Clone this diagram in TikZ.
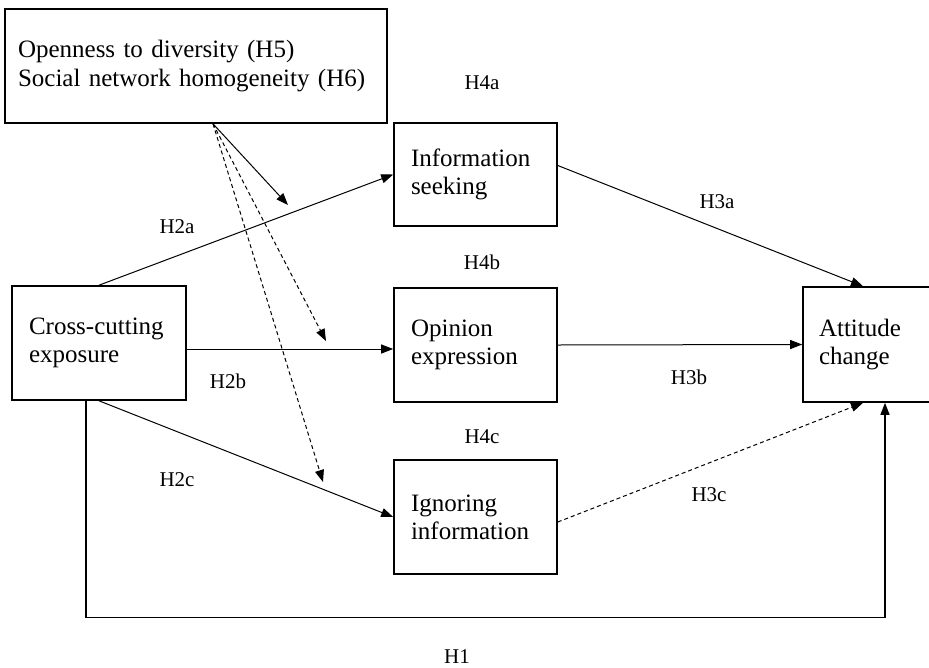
\documentclass[tikz,border=0pt]{standalone}
\usepackage{fontspec}
\setmainfont{Liberation Serif}
\usetikzlibrary{arrows.meta}

\tikzset{
  box/.style={draw, line width=1.6pt, align=left, inner xsep=17pt, inner ysep=0pt, font=\fontsize{25}{28}\selectfont},
  lab/.style={font=\fontsize{21}{23}\selectfont},
  fleche/.style={line width=1pt, -{Triangle[length=12pt,width=9pt]}},
  tirets/.style={dash pattern=on 4pt off 3pt},
}

\begin{document}
\begin{tikzpicture}[x=1pt,y=-1pt]
\useasboundingbox (0,0) rectangle (929,667);

\node[box, text width=356pt, inner xsep=13pt, minimum height=114pt, font=\fontsize{25}{29}\selectfont] (mod) at (196,66) {Openness to diversity (H5)\\Social network homogeneity (H6)}; %moderateurs

\node[box, text width=140pt, minimum height=114pt] (cce) at (99,343) {Cross-cutting\\exposure}; %exposition
\node[box, text width=129pt, minimum height=103pt] (info) at (475.5,174.5) {Information\\seeking};
\node[box, text width=129pt, minimum height=114pt] (opn) at (475.5,345) {Opinion\\expression};
\node[box, text width=129pt, minimum height=114pt] (ign) at (475.5,517) {Ignoring\\information};
\node[box, text width=124pt, inner xsep=16pt, minimum height=115pt] (att) at (881,344.5) {Attitude\\change}; %coupe a droite

% chemins H2
\draw[fleche] (cce.north) -- (info.west);
\draw[fleche] ([yshift=-6pt]cce.east) -- ([yshift=-6pt]cce.east -| opn.west);
\draw[fleche] (cce.south) -- (ign.west);

% chemins H3
\draw[fleche] ([yshift=9pt]info.east) -- ([xshift=-18pt]att.north);
\draw[fleche] (opn.east) -- (att.west);
\draw[fleche, tirets] ([yshift=-5pt]ign.east) -- ([xshift=-18pt]att.south);

% H1 par en dessous
\draw[fleche, line width=1.2pt] ([xshift=-13pt]cce.south) -- ++(0,217) -| ([xshift=4pt]att.south);

% moderation
\coordinate (dep) at ([xshift=17pt]mod.south);
\coordinate (t1) at (288,205);
\coordinate (t2) at (326,341);
\coordinate (t3) at (323,482);
\draw[fleche] (dep) -- (t1);
\draw[fleche, tirets] (dep) -- (t2);
\draw[fleche, tirets] (dep) -- (t3);

% labels
\node[lab] (h4a) at (482,83) {H4a};
\node[lab] (h2a) at (177,227) {H2a};
\node[lab] (h4b) at (482,262) {H4b};
\node[lab] (h2b) at (228,381) {H2b};
\node[lab] (h4c) at (482,437) {H4c};
\node[lab] (h2c) at (177,480) {H2c};
\node[lab] (h3a) at (717,202) {H3a};
\node[lab] (h3b) at (689,377) {H3b};
\node[lab] (h3c) at (709,495) {H3c};
\node[lab] (h1) at (457,657) {H1};
\end{tikzpicture}
\end{document}
